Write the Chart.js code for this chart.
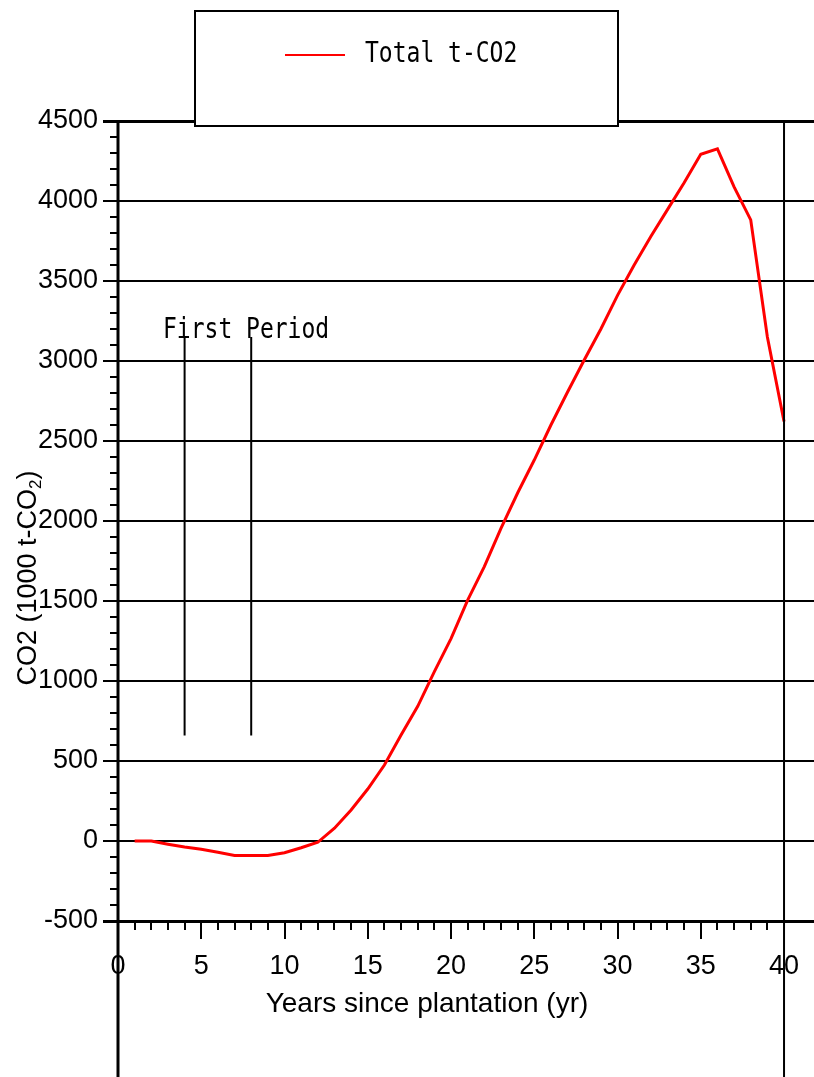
<!DOCTYPE html>
<html>
<head>
<meta charset="utf-8">
<script src="https://cdn.jsdelivr.net/npm/chart.js@4.4.1/dist/chart.umd.min.js"></script>
<style>
  html, body { margin: 0; padding: 0; background: #fff; }
  #wrap { width: 814px; height: 1077px; position: relative; }
</style>
</head>
<body>
<div id="wrap"><canvas id="chart" width="814" height="1077"></canvas></div>
<script>
  // Data (1000 t-CO2 per year since plantation)
  const years = [1, 2, 3, 4, 5, 6, 7, 8, 9, 10, 11, 12, 13, 14, 15, 16, 17, 18, 19, 20,
                 21, 22, 23, 24, 25, 26, 27, 28, 29, 30, 31, 32, 33, 34, 35, 36, 37, 38, 39, 40];
  const totalCO2 = [0, 0, -20, -38, -52, -70, -90, -90, -90, -73, -42, -8, 80, 194, 325, 475, 662, 842, 1058, 1265,
                    1505, 1715, 1954, 2175, 2381, 2600, 2806, 3006, 3200, 3410, 3600, 3778, 3946, 4114, 4292, 4326, 4088, 3882, 3150, 2622];
  const seriesName = "Total t-CO2";
  const periodYears = [4, 8];          // "First Period" markers
  const periodSpan = [660, 3150];      // vertical extent of the markers
  const periodLabel = "First Period";
  const yTicks = [-500, 0, 500, 1000, 1500, 2000, 2500, 3000, 3500, 4000, 4500];
  const xTicks = [0, 5, 10, 15, 20, 25, 30, 35, 40];

  const LABEL_FONT = '"Liberation Sans", Arial, sans-serif';
  const PLOT_FONT = '"DejaVu Sans Mono", monospace';

  function plotText(ctx, text, x, baseline, size, sy) {
    ctx.save();
    ctx.font = size + "px " + PLOT_FONT;
    ctx.fillStyle = "#000";
    ctx.textAlign = "left";
    ctx.textBaseline = "alphabetic";
    ctx.translate(x, baseline);
    ctx.scale(1, sy);
    ctx.fillText(text, 0, 0);
    ctx.restore();
  }

  const frame = {
    id: "frame",
    afterDraw(chart) {
      const { ctx, scales: { x, y } } = chart;
      const H = chart.height;
      ctx.save();
      ctx.strokeStyle = "#000";
      ctx.lineCap = "butt";

      // left axis and the x=40 line run down to the bottom edge
      ctx.lineWidth = 3;
      ctx.beginPath();
      ctx.moveTo(x.getPixelForValue(0), y.getPixelForValue(4500) - 1);
      ctx.lineTo(x.getPixelForValue(0), H);
      ctx.stroke();
      ctx.lineWidth = 2;
      ctx.beginPath();
      ctx.moveTo(x.getPixelForValue(40), y.getPixelForValue(4500));
      ctx.lineTo(x.getPixelForValue(40), H);
      ctx.stroke();

      // minor y ticks
      ctx.lineWidth = 2;
      const x0 = x.getPixelForValue(0);
      for (let v = -400; v < 4500; v += 100) {
        if (v % 500 === 0) continue;
        const py = Math.round(y.getPixelForValue(v));
        ctx.beginPath();
        ctx.moveTo(x0 - 8, py);
        ctx.lineTo(x0, py);
        ctx.stroke();
      }
      // x ticks below the axis
      const yb = y.getPixelForValue(-500);
      for (let v = 1; v < 40; v++) {
        const px = Math.round(x.getPixelForValue(v));
        const len = v % 5 === 0 ? 18 : 9;
        ctx.beginPath();
        ctx.moveTo(px, yb);
        ctx.lineTo(px, yb + len);
        ctx.stroke();
      }

      // axis titles
      ctx.fillStyle = "#000";
      ctx.font = "28px " + LABEL_FONT;
      ctx.textAlign = "center";
      ctx.textBaseline = "alphabetic";
      ctx.fillText("Years since plantation (yr)", 427, 1012);

      ctx.save();
      ctx.translate(36, 578);
      ctx.rotate(-Math.PI / 2);
      const main = "CO2 (1000 t-CO";
      ctx.font = "27px " + LABEL_FONT;
      const w1 = ctx.measureText(main).width;
      ctx.font = "17px " + LABEL_FONT;
      const w2 = ctx.measureText("2").width;
      ctx.font = "27px " + LABEL_FONT;
      const w3 = ctx.measureText(")").width;
      const sx = -(w1 + w2 + w3) / 2;
      ctx.textAlign = "left";
      ctx.fillText(main, sx, 0);
      ctx.font = "17px " + LABEL_FONT;
      ctx.fillText("2", sx + w1, 5);
      ctx.font = "27px " + LABEL_FONT;
      ctx.fillText(")", sx + w1 + w2, 0);
      ctx.restore();

      // "First Period" label
      plotText(ctx, periodLabel, 163, y.getPixelForValue(3150) + 1, 23, 1.2);

      // legend box
      ctx.lineWidth = 2;
      ctx.fillStyle = "#fff";
      ctx.fillRect(195, 11, 423, 115);
      ctx.strokeRect(195, 11, 423, 115);
      ctx.strokeStyle = "#ff0000";
      ctx.lineWidth = 2;
      ctx.beginPath();
      ctx.moveTo(285, 55);
      ctx.lineTo(345, 55);
      ctx.stroke();
      plotText(ctx, seriesName, 365, 62, 23, 1.25);
      ctx.restore();
    }
  };

  new Chart(document.getElementById("chart"), {
    type: "line",
    data: {
      datasets: [
        {
          label: seriesName,
          data: years.map((yr, i) => ({ x: yr, y: totalCO2[i] })),
          borderColor: "#ff0000",
          borderWidth: 3,
          pointRadius: 0,
          tension: 0,
        },
        ...periodYears.map(yr => ({
          label: periodLabel,
          data: periodSpan.map(v => ({ x: yr, y: v })),
          borderColor: "#000",
          borderWidth: 2,
          pointRadius: 0,
        })),
      ],
    },
    options: {
      responsive: false,
      animation: false,
      layout: { padding: { top: 121, right: 0, left: 0, bottom: 0 } },
      plugins: { legend: { display: false }, tooltip: { enabled: false } },
      scales: {
        x: {
          type: "linear",
          min: 0,
          max: 41.8,
          afterFit: (s) => { s.height = 156; s.paddingLeft = 0; s.paddingRight = 0; },
          afterBuildTicks: (s) => { s.ticks = xTicks.map(v => ({ value: v })); },
          grid: { display: false, drawTicks: false },
          border: { display: false },
          ticks: { color: "#000", font: { family: LABEL_FONT, size: 27 }, padding: 29, maxRotation: 0, autoSkip: false,
                   callback: (v) => String(v) },
        },
        y: {
          type: "linear",
          min: -500,
          max: 4500,
          afterFit: (s) => { s.width = 118; s.paddingTop = 0; s.paddingBottom = 0; },
          afterBuildTicks: (s) => { s.ticks = yTicks.map(v => ({ value: v })); },
          grid: {
            color: "#000",
            lineWidth: (c) => (c.tick && (c.tick.value === -500 || c.tick.value === 4500)) ? 3 : 2,
            drawTicks: true,
            tickLength: 15,
          },
          border: { display: false },
          ticks: { color: "#000", font: { family: LABEL_FONT, size: 27 }, padding: 5, autoSkip: false,
                   callback: (v) => String(v) },
        },
      },
    },
    plugins: [frame],
  });
</script>
</body>
</html>
